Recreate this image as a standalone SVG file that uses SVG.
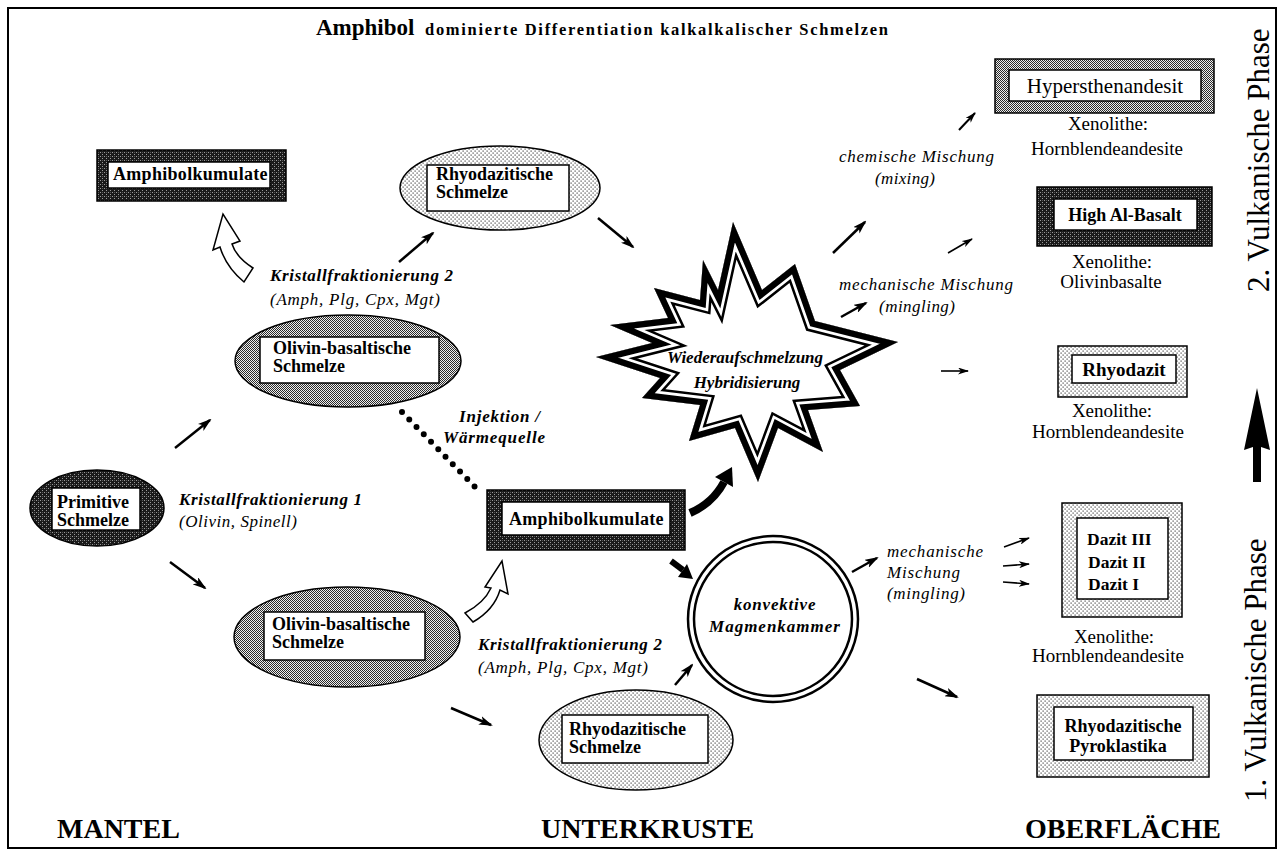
<svg xmlns="http://www.w3.org/2000/svg" xmlns:xlink="http://www.w3.org/1999/xlink" width="1281" height="857" viewBox="0 0 1281 857">
<style>
text{font-family:"Liberation Serif","Times New Roman",serif;fill:#000}
.b{font-weight:bold;font-size:18px}
.bi{font-weight:bold;font-style:italic;font-size:17px}
.i{font-style:italic;font-size:17px}
.r{font-size:19px}
.c{text-anchor:middle}
.big{font-weight:bold;font-size:28px}
.vert{font-size:31px}
.ar{stroke:#000;stroke-width:2.5;fill:none;marker-end:url(#ah)}
.as{stroke:#000;stroke-width:1.6;fill:none;marker-end:url(#ahs)}
.hol{fill:#fff;stroke:#000;stroke-width:1.5;stroke-linejoin:miter}
.box{stroke:#000;stroke-width:1.5}
.wb{fill:#fff;stroke:#000;stroke-width:1.5}
</style>
<defs>
<pattern id="pDark" width="4" height="4" patternUnits="userSpaceOnUse"><rect width="4" height="4" fill="#1a1a1a"/><rect x="0" y="0" width="1" height="1" fill="#9a9a9a"/><rect x="2" y="2" width="1" height="1" fill="#9a9a9a"/><rect x="2" y="0" width="1" height="1" fill="#555"/></pattern>
<pattern id="pMed" width="2" height="2" patternUnits="userSpaceOnUse"><rect width="2" height="2" fill="#eeeeee"/><rect width="1" height="1" fill="#2a2a2a"/><rect x="1" y="1" width="1" height="1" fill="#2a2a2a"/></pattern>
<pattern id="pLight" width="4" height="4" patternUnits="userSpaceOnUse"><rect width="4" height="4" fill="#fff"/><rect x="0.5" y="0.5" width="1.2" height="1.2" fill="#444"/><rect x="2.5" y="2.5" width="1.2" height="1.2" fill="#444"/></pattern>
<marker id="ah" markerUnits="userSpaceOnUse" markerWidth="14" markerHeight="9" viewBox="0 0 14 9" refX="12" refY="4.5" orient="auto"><path d="M0,0 L14,4.5 L0,9 L3.5,4.5 Z" fill="#000"/></marker>
<marker id="ahs" markerUnits="userSpaceOnUse" markerWidth="11" markerHeight="7" viewBox="0 0 11 7" refX="10" refY="3.5" orient="auto"><path d="M0,0 L11,3.5 L0,7 L3,3.5 Z" fill="#000"/></marker>
<polygon id="starP" points="733,222 762,290 795,264 815,321 898,342 840,370 860,406 808,410 823,452 778,428 758,482 735,428 689,441 700,405 642,398 660,378 596,357 652,343 610,325 668,318 654,288 700,300 703,260 718,290"/>
<clipPath id="starClip"><use xlink:href="#starP"/></clipPath>
</defs>

<rect x="8" y="8" width="1268" height="840" fill="#fff" stroke="#000" stroke-width="2"/>

<g id="title">
<text x="316" y="35" style="font-weight:bold;font-size:23px">Amphibol</text>
<text x="425" y="35" style="font-weight:bold;font-size:16.5px" textLength="463">dominierte  Differentiation  kalkalkalischer  Schmelzen</text>
</g>

<g id="connectors">
<path class="ar" d="M175,448 L210,420"/>
<path class="ar" d="M170,562 L205,588"/>
<path class="ar" d="M399,262 L433,233"/>
<path class="ar" d="M598,218 L633,247"/>
<path class="ar" d="M833,253 L865,222"/>
<path class="as" style="stroke-width:2" d="M959,130 L975,113"/>
<path class="as" d="M948,253 L972,239"/>
<path class="ar" d="M841,317 L866,303"/>
<path class="as" d="M941,371 L968,371"/>
<path class="ar" d="M451,708 L491,725"/>
<path class="ar" d="M675,685 L692,665"/>
<path class="ar" d="M852,572 L877,558"/>
<path class="as" d="M1004,547 L1029,538"/>
<path class="as" d="M1003,566 L1029,564"/>
<path class="as" d="M1003,582 L1029,584"/>
<path class="ar" d="M917,679 L957,697"/>
<line x1="402" y1="412" x2="475" y2="487" stroke="#000" stroke-width="6" stroke-linecap="round" stroke-dasharray="0 10.4"/>
<path class="hol" d="M244,282 Q226,267 220,247 L213,250 L223,214 L240,241 L232,244 Q236,257 253,268 Z"/>
<path class="hol" d="M465,613 Q484,603 491,588 L485,587 L502,561 L508,594 L500,590 Q494,610 473,622 Z"/>
<path d="M690,513 Q713,503 724,482" stroke="#000" stroke-width="8" fill="none"/>
<polygon points="732,467 733,487 715,477" fill="#000"/>
<line x1="671" y1="561" x2="683" y2="570" stroke="#000" stroke-width="6"/>
<polygon points="693,579 678,577 687,564" fill="#000"/>
<polygon points="1257,388 1270,450 1261,447 1261,482 1253,482 1253,447 1244,450" fill="#000"/>
</g>

<g id="amphibol-top">
<rect class="box" x="97" y="150" width="189" height="51" fill="url(#pDark)"/>
<rect class="wb" x="108" y="162" width="162" height="26"/>
<text class="b" x="113" y="180" style="letter-spacing:0.3px">Amphibolkumulate</text>
</g>

<g id="rhyo-top">
<ellipse class="box" cx="500" cy="188" rx="100" ry="42" fill="url(#pLight)"/>
<rect class="wb" x="427" y="165" width="142" height="46"/>
<text class="b" x="436" y="180">Rhyodazitische</text>
<text class="b" x="436" y="198">Schmelze</text>
</g>

<g id="olivin-top">
<ellipse class="box" cx="348" cy="361" rx="113" ry="46" fill="url(#pMed)"/>
<rect class="wb" x="260" y="337" width="179" height="46"/>
<text class="b" x="273" y="354">Olivin-basaltische</text>
<text class="b" x="273" y="372">Schmelze</text>
</g>

<g id="primitive">
<ellipse class="box" cx="97" cy="508" rx="67" ry="38" fill="url(#pDark)"/>
<rect class="wb" x="52" y="488" width="88" height="42"/>
<text class="b" x="57" y="508">Primitive</text>
<text class="b" x="57" y="526">Schmelze</text>
</g>

<g id="olivin-bottom">
<ellipse class="box" cx="347" cy="637" rx="113" ry="50" fill="url(#pMed)"/>
<rect class="wb" x="264" y="612" width="161" height="48"/>
<text class="b" x="272" y="630">Olivin-basaltische</text>
<text class="b" x="272" y="648">Schmelze</text>
</g>

<g id="amphibol-mid">
<rect class="box" x="487" y="490" width="198" height="60" fill="url(#pDark)"/>
<rect class="wb" x="502" y="502" width="168" height="33"/>
<text class="b" x="509" y="525" style="letter-spacing:0.3px">Amphibolkumulate</text>
</g>

<g id="rhyo-bottom">
<ellipse class="box" cx="636" cy="740" rx="97" ry="50" fill="url(#pLight)"/>
<rect class="wb" x="562" y="715" width="146" height="48"/>
<text class="b" x="569" y="735">Rhyodazitische</text>
<text class="b" x="569" y="753">Schmelze</text>
</g>

<g id="magmenkammer">
<ellipse cx="773" cy="619" rx="85" ry="83" fill="#fff" stroke="#000" stroke-width="2.5"/>
<ellipse cx="773" cy="619" rx="79" ry="77" fill="none" stroke="#000" stroke-width="2.5"/>
<text class="bi c" x="775" y="610" style="letter-spacing:0.8px">konvektive</text>
<text class="bi c" x="775" y="632" style="letter-spacing:1px">Magmenkammer</text>
</g>

<g id="star">
<use xlink:href="#starP" fill="#fff"/>
<g clip-path="url(#starClip)">
<use xlink:href="#starP" fill="none" stroke="#000" stroke-width="23" stroke-linejoin="miter"/>
<use xlink:href="#starP" fill="none" stroke="#fff" stroke-width="18" stroke-linejoin="miter"/>
<use xlink:href="#starP" fill="none" stroke="#000" stroke-width="12.5" stroke-linejoin="miter"/>
</g>
<text class="bi c" x="745" y="363">Wiederaufschmelzung</text>
<text class="bi c" x="747" y="388">Hybridisierung</text>
</g>

<g id="hypersthen">
<rect class="box" x="995" y="59" width="219" height="54" fill="url(#pMed)"/>
<rect class="wb" x="1009" y="70" width="192" height="31"/>
<text class="c" x="1105" y="93" style="font-size:21px">Hypersthenandesit</text>
<text class="r c" x="1108" y="130">Xenolithe:</text>
<text class="r c" x="1107" y="155">Hornblendeandesite</text>
</g>

<g id="highal">
<rect class="box" x="1037" y="187" width="175" height="59" fill="url(#pDark)"/>
<rect class="wb" x="1054" y="199" width="143" height="31"/>
<text class="b c" x="1125" y="221">High  Al-Basalt</text>
<text class="r c" x="1112" y="268">Xenolithe:</text>
<text class="r c" x="1111" y="288">Olivinbasalte</text>
</g>

<g id="rhyodazit">
<rect class="box" x="1058" y="346" width="129" height="51" fill="url(#pLight)"/>
<rect class="wb" x="1072" y="355" width="104" height="28"/>
<text class="b c" x="1124" y="376" style="font-size:19px">Rhyodazit</text>
<text class="r c" x="1112" y="417">Xenolithe:</text>
<text class="r c" x="1108" y="438">Hornblendeandesite</text>
</g>

<g id="dazit">
<rect class="box" x="1062" y="503" width="120" height="114" fill="url(#pLight)"/>
<rect class="wb" x="1077" y="518" width="91" height="81"/>
<text class="b" x="1087" y="545" style="font-size:17.5px">Dazit  III</text>
<text class="b" x="1088" y="568" style="font-size:17.5px">Dazit  II</text>
<text class="b" x="1088" y="590" style="font-size:17.5px">Dazit  I</text>
<text class="r c" x="1114" y="643">Xenolithe:</text>
<text class="r c" x="1108" y="662">Hornblendeandesite</text>
</g>

<g id="pyroklastika">
<rect class="box" x="1037" y="695" width="172" height="82" fill="url(#pLight)"/>
<rect class="wb" x="1054" y="707" width="139" height="53"/>
<text class="b c" x="1123" y="732">Rhyodazitische</text>
<text class="b c" x="1118" y="752">Pyroklastika</text>
</g>

<g id="labels">
<text class="bi" x="270" y="281" textLength="183">Kristallfraktionierung  2</text>
<text class="i" x="270" y="305" textLength="170">(Amph, Plg, Cpx, Mgt)</text>
<text class="bi" x="179" y="505" textLength="183">Kristallfraktionierung  1</text>
<text class="i" x="179" y="527" textLength="118">(Olivin, Spinell)</text>
<text class="bi" x="478" y="650" textLength="184">Kristallfraktionierung  2</text>
<text class="i" x="478" y="673" textLength="170">(Amph, Plg, Cpx, Mgt)</text>
<text class="bi" x="459" y="422" textLength="81">Injektion /</text>
<text class="bi" x="443" y="443" textLength="102">Wärmequelle</text>
<text class="i" x="839" y="162" textLength="155">chemische  Mischung</text>
<text class="i" x="875" y="184" textLength="60">(mixing)</text>
<text class="i" x="839" y="290" textLength="174">mechanische  Mischung</text>
<text class="i" x="879" y="312" textLength="76">(mingling)</text>
<text class="i" x="887" y="557" textLength="96">mechanische</text>
<text class="i" x="887" y="578" textLength="73">Mischung</text>
<text class="i" x="887" y="599" textLength="78">(mingling)</text>
<text class="big" x="57" y="838">MANTEL</text>
<text class="big" x="541" y="838">UNTERKRUSTE</text>
<text class="big" x="1025" y="838">OBERFLÄCHE</text>
<text class="vert" transform="translate(1269,292) rotate(-90)">2. Vulkanische Phase</text>
<text class="vert" transform="translate(1266,802) rotate(-90)">1. Vulkanische Phase</text>
</g>
</svg>
